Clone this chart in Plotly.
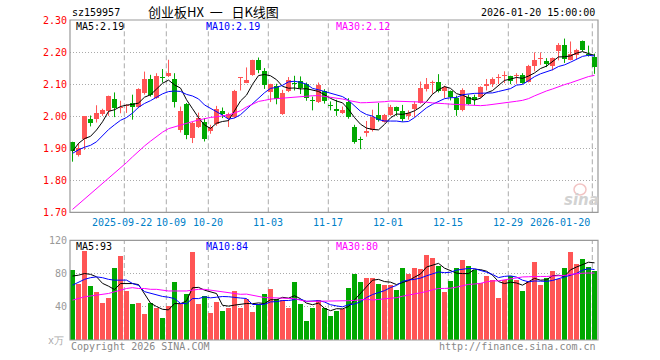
import numpy as np
import pandas as pd
import plotly.graph_objects as go

# ---------------- data ----------------
open_ = [1.920, 1.879, 1.929, 1.992, 1.992, 2.007, 2.017, 2.053, 2.025, 2.031,
         2.041, 2.030, 2.072, 2.117, 2.056, 2.122, 2.124, 2.117, 1.957, 2.039,
         1.933, 1.966, 1.983, 1.955, 1.976, 2.015, 1.994, 1.996, 2.119, 2.105,
         2.129, 2.176, 2.140, 2.074, 2.095, 2.007, 2.079, 2.103, 2.110, 2.101,
         2.049, 2.043, 2.079, 2.034, 2.023, 2.009, 2.043, 1.965, 1.929, 1.947,
         1.957, 2.004, 1.983, 2.004, 2.028, 2.015, 2.001, 2.023, 2.041, 2.084,
         2.104, 2.106, 2.080, 2.077, 2.056, 2.020, 2.061, 2.061, 2.061, 2.093,
         2.101, 2.119, 2.124, 2.124, 2.124, 2.129, 2.106, 2.155, 2.178, 2.171,
         2.157, 2.202, 2.221, 2.176, 2.192, 2.233, 2.195, 2.186]
high_ = [1.920, 1.916, 2.000, 2.002, 2.034, 2.023, 2.064, 2.074, 2.048, 2.037,
         2.067, 2.087, 2.139, 2.129, 2.134, 2.147, 2.176, 2.134, 2.030, 2.041,
         1.983, 2.011, 1.994, 1.973, 2.032, 2.027, 2.011, 2.082, 2.121, 2.152,
         2.176, 2.183, 2.150, 2.101, 2.101, 2.082, 2.122, 2.126, 2.124, 2.105,
         2.061, 2.105, 2.084, 2.046, 2.051, 2.030, 2.056, 1.973, 1.936, 1.985,
         2.020, 2.041, 2.007, 2.035, 2.030, 2.035, 2.018, 2.046, 2.108, 2.119,
         2.111, 2.131, 2.095, 2.080, 2.064, 2.087, 2.067, 2.067, 2.093, 2.116,
         2.121, 2.131, 2.140, 2.126, 2.134, 2.134, 2.160, 2.199, 2.199, 2.181,
         2.183, 2.228, 2.242, 2.233, 2.210, 2.236, 2.220, 2.195]
low_ = [1.858, 1.874, 1.895, 1.968, 1.980, 2.001, 2.001, 1.997, 2.009, 2.010,
        1.989, 2.025, 2.067, 2.061, 2.054, 2.105, 2.122, 2.027, 1.949, 1.928,
        1.916, 1.963, 1.921, 1.945, 1.970, 1.994, 1.966, 1.994, 2.080, 2.103,
        2.126, 2.134, 2.085, 2.044, 2.037, 2.004, 2.075, 2.080, 2.069, 2.048,
        2.018, 2.041, 2.039, 2.018, 2.001, 2.007, 1.992, 1.914, 1.897, 1.936,
        1.952, 1.983, 1.980, 2.001, 2.001, 1.983, 1.989, 1.997, 2.039, 2.077,
        2.070, 2.074, 2.056, 2.049, 2.001, 2.015, 2.035, 2.035, 2.056, 2.080,
        2.091, 2.100, 2.103, 2.100, 2.101, 2.101, 2.105, 2.140, 2.160, 2.153,
        2.143, 2.174, 2.166, 2.174, 2.178, 2.202, 2.186, 2.132]
close_ = [1.892, 1.902, 1.999, 1.980, 2.011, 2.020, 2.064, 2.025, 2.030, 2.034,
          2.030, 2.085, 2.117, 2.067, 2.124, 2.120, 2.134, 2.043, 2.017, 1.942,
          1.980, 1.994, 1.928, 1.965, 2.023, 2.007, 2.007, 2.079, 2.121, 2.114,
          2.176, 2.143, 2.096, 2.101, 2.053, 2.072, 2.114, 2.099, 2.087, 2.056,
          2.046, 2.098, 2.046, 2.031, 2.015, 2.018, 1.996, 1.918, 1.927, 1.955,
          1.997, 1.989, 2.004, 2.028, 2.015, 1.992, 2.009, 2.039, 2.087, 2.101,
          2.107, 2.077, 2.090, 2.059, 2.018, 2.082, 2.039, 2.051, 2.091, 2.101,
          2.117, 2.122, 2.127, 2.111, 2.127, 2.103, 2.157, 2.176, 2.180, 2.164,
          2.181, 2.223, 2.178, 2.194, 2.207, 2.205, 2.192, 2.152]
volume = [84, 67.2, 106.8, 64.8, 57.6, 44.4, 50.4, 86.4, 100.8, 58.8,
          43.2, 44.4, 31.2, 44.4, 38.4, 26.4, 40.8, 69.6, 43.2, 55.2,
          105.6, 43.2, 52.8, 32.4, 45.6, 34.8, 38.4, 58.8, 38.4, 49.2,
          33.6, 43.2, 55.2, 61.2, 49.2, 48, 38.4, 69.6, 43.2, 22.8,
          38.4, 48, 38.4, 28.8, 34.8, 37.2, 62.4, 79.2, 69.6, 74.4,
          74.4, 67.2, 66, 66, 60, 86.4, 79.2, 86.4, 85.2, 102,
          98.8, 88.8, 57.6, 70.8, 86.4, 96, 88.8, 84, 68.4, 76.8,
          72, 50.4, 72, 76.8, 72, 58.8, 69.6, 93.6, 66, 74.4,
          82.8, 73.2, 86.4, 105.6, 91.2, 97.2, 87.6, 82.8]

# moving-average values before a full window exists
ma5_head = [1.890, 1.915, 1.930, 1.937]
ma10_head = [1.884, 1.895, 1.903, 1.909, 1.920, 1.940, 1.958, 1.973, 1.987]
ma30_head = [1.709, 1.725, 1.741, 1.757, 1.773, 1.789, 1.805, 1.822, 1.838, 1.855,
             1.873, 1.891, 1.907, 1.922, 1.936, 1.950, 1.961, 1.967, 1.973, 1.979,
             1.983, 1.988, 1.993, 1.996, 1.998, 2.001, 2.004, 2.010, 2.017]
vma5_head = [77, 78, 80, 79]
vma10_head = [66, 70, 73, 75, 76, 75, 73, 72, 72]
vma30_head = [48, 50, 52, 53, 54, 55, 56, 58, 60, 62, 63, 62, 62, 61, 61, 60, 59, 59,
              59, 59, 60, 61, 61, 60, 59, 58, 57, 56, 55]

tick_index = [9, 16, 23, 33, 43, 53, 63, 73, 87]
tick_labels = ["2025-09-22", "10-09", "10-20", "11-03", "11-17", "12-01", "12-15",
               "12-29", "2026-01-20"]
price_ticks = [1.70, 1.80, 1.90, 2.00, 2.10, 2.20, 2.30]
vol_ticks = [40, 80, 120]

# ---------------- derived ----------------
o = np.array(open_); h = np.array(high_); l = np.array(low_); c = np.array(close_)
v = np.array(volume, dtype=float)
n = len(c)
idx = np.arange(n)
xc = idx + 0.42


def ma(arr, w, head):
    s = pd.Series(arr).rolling(w).mean().to_numpy()
    s[:len(head)] = head
    return s


ma5, ma10, ma30 = ma(c, 5, ma5_head), ma(c, 10, ma10_head), ma(c, 30, ma30_head)
vma5, vma10, vma30 = ma(v, 5, vma5_head), ma(v, 10, vma10_head), ma(v, 30, vma30_head)

RED = "#FF5555"
GREEN = "#00A800"
up = c >= o
cols = np.where(up, RED, GREEN)

MONO = "DejaVu Sans Mono"
W, H = 660, 360
L, R, T, B = 70, 598, 20, 340


def px(x):
    return (x - L) / (R - L)


def py(y):
    return (B - y) / (B - T)


fig = go.Figure()

# wicks
for mask, col in [(up, RED), (~up, GREEN)]:
    xs, ys = [], []
    for i in idx[mask]:
        xs += [xc[i], xc[i], None]
        ys += [l[i], h[i], None]
    fig.add_trace(go.Scatter(x=xs, y=ys, mode="lines", line=dict(color=col, width=1),
                             hoverinfo="skip", xaxis="x", yaxis="y"))
# bodies
fig.add_trace(go.Bar(x=xc, y=np.maximum(np.abs(c - o), 0.0032), base=np.minimum(o, c),
                     width=5 / 6, marker=dict(color=cols, line=dict(width=0)),
                     xaxis="x", yaxis="y"))
for s, col in [(ma5, "#000000"), (ma10, "#0000FF"), (ma30, "#FF00FF")]:
    fig.add_trace(go.Scatter(x=xc, y=s, mode="lines", line=dict(color=col, width=1),
                             xaxis="x", yaxis="y"))

# volume
fig.add_trace(go.Bar(x=xc, y=v, width=5 / 6, marker=dict(color=cols, line=dict(width=0)),
                     xaxis="x2", yaxis="y2"))
for s, col in [(vma5, "#000000"), (vma10, "#0000FF"), (vma30, "#FF00FF")]:
    fig.add_trace(go.Scatter(x=xc, y=s, mode="lines", line=dict(color=col, width=1),
                             xaxis="x2", yaxis="y2"))

main_dom = [py(212.3), 1.0]
vol_dom = [0.0, py(240.3)]

shapes = []
for ti in tick_index:
    for dom, xr in [(main_dom, "x"), (vol_dom, "x2")]:
        shapes.append(dict(type="line", xref=xr, yref="paper", x0=ti + 0.05, x1=ti + 0.05,
                           y0=dom[0], y1=dom[1], layer="below",
                           line=dict(color="#AAAAAA", width=1, dash="5px,3px")))
for dom in (main_dom, vol_dom):
    shapes.append(dict(type="rect", xref="paper", yref="paper", x0=0, x1=1, y0=dom[0], y1=dom[1],
                       line=dict(color="#999999", width=1.2), fillcolor="rgba(0,0,0,0)"))
# faint sina logo "eye"
shapes.append(dict(type="circle", xref="paper", yref="paper", x0=px(574), x1=px(586),
                   y0=py(195), y1=py(184), layer="below",
                   line=dict(color="#F2C4C4", width=1.5), fillcolor="rgba(0,0,0,0)"))

ann = []


def text(x, y, t, color="#000000", size=10, xanchor="left", family=MONO):
    ann.append(dict(x=x, y=y, xref="paper", yref="paper", text=t, showarrow=False,
                    xanchor=xanchor, yanchor="middle",
                    font=dict(family=family, size=size, color=color)))


text(px(70), py(12), "sz159957", size=10)
text(px(213), py(11.5), "创业板HX\u00a0\u00a0一\u00a0\u00a0\u00a0日K线图", size=13,
     xanchor="center", family="Noto Sans CJK SC")
text(px(597), py(12), "2026-01-20 15:00:00", size=10, xanchor="right")
text(px(74), py(26), "MA5:2.19", size=10)
text(px(204), py(26), "MA10:2.19", color="#0000FF", size=10)
text(px(334), py(26), "MA30:2.12", color="#FF00FF", size=10)
text(px(74), py(246), "MA5:93", size=10)
text(px(204), py(246), "MA10:84", color="#0000FF", size=10)
text(px(334), py(246), "MA30:80", color="#FF00FF", size=10)
for k, (ti, lab) in enumerate(zip(tick_index, tick_labels)):
    if k == 0:
        text(px(153.5), py(222), lab, color="#0080C8", size=10, xanchor="right")
    elif k == 1:
        text(px(154), py(222), lab, color="#0080C8", size=10, xanchor="left")
    elif k == len(tick_index) - 1:
        text(px(592), py(222), lab, color="#0080C8", size=10, xanchor="right")
    else:
        text(px(L + 6 * (ti + 0.05)), py(222), lab, color="#0080C8", size=10, xanchor="center")
text(px(69), py(346), "Copyright 2026 SINA.COM", color="#888888", size=10)
text(px(598), py(346), "http://finance.sina.com.cn", color="#888888", size=10, xanchor="right")
text(px(66), py(340), "x万", color="#AAAAAA", size=10, xanchor="right")
text(px(581), py(200), "<b><i>sina</i></b>", color="#D2D2D2", size=15, xanchor="center",
     family="DejaVu Sans")

axis_common = dict(showgrid=False, zeroline=False, showticklabels=False, range=[0, n],
                   fixedrange=True)
fig.update_layout(
    width=W, height=H, margin=dict(l=L, r=W - R, t=T, b=H - B, autoexpand=False),
    paper_bgcolor="white", plot_bgcolor="white", showlegend=False, bargap=0,
    barmode="overlay",
    xaxis=dict(domain=[0, 1], anchor="y", **axis_common),
    xaxis2=dict(domain=[0, 1], anchor="y2", **axis_common),
    yaxis=dict(domain=main_dom, range=[1.70, 2.30], tickvals=price_ticks,
               ticktext=[f"{t:.2f}" for t in price_ticks], showgrid=True,
               gridcolor="#AAAAAA", griddash="1px,2px", gridwidth=1, zeroline=False,
               tickfont=dict(family=MONO, size=10, color="#FF0000"), ticks="",
               ticklabelstandoff=2, anchor="x", fixedrange=True, automargin=False),
    yaxis2=dict(domain=vol_dom, range=[0, 120], tickvals=vol_ticks,
                ticktext=[str(t) for t in vol_ticks], showgrid=True,
                gridcolor="#AAAAAA", griddash="1px,2px", gridwidth=1, zeroline=False,
                tickfont=dict(family=MONO, size=10, color="#999999"), ticks="",
                ticklabelstandoff=2, anchor="x2", fixedrange=True, automargin=False),
    shapes=shapes, annotations=ann,
)

fig.write_html("out.html", config={"displayModeBar": False, "staticPlot": True},
               post_script="document.body.style.margin='0';document.body.style.overflow='hidden';")
